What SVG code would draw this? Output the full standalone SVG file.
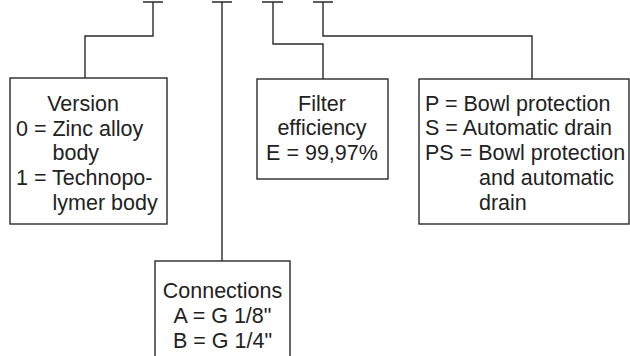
<svg xmlns="http://www.w3.org/2000/svg" width="630" height="356" viewBox="0 0 630 356">
<style>
.box{fill:#fff;stroke:#2a2a2a;stroke-width:1.4}
.ln{fill:none;stroke:#2a2a2a;stroke-width:1.4}
.t{font-family:"Liberation Sans",Arial,sans-serif;font-size:21.5px;fill:#222}
.c{text-anchor:middle}
</style>
<rect width="630" height="356" fill="#fff"/>
<g id="connectors">
<path class="ln" d="M143,2 H163 M153,2 V36 H85 V78"/>
<path class="ln" d="M212,2 H232 M222,2 V261"/>
<path class="ln" d="M262,2 H283 M273,2 V44 H323 V79"/>
<path class="ln" d="M313,2 H333 M323,2 V36 H532 V79"/>
</g>
<g id="version">
<rect class="box" x="10" y="78" width="157" height="146"/>
<text class="t c" x="83" y="111">Version</text>
<text class="t" x="16" y="136">0 = Zinc alloy</text>
<text class="t" x="52.5" y="160">body</text>
<text class="t" x="16" y="185">1 = Technopo-</text>
<text class="t" x="52.5" y="210">lymer body</text>
</g>
<g id="filter">
<rect class="box" x="257" y="79" width="131" height="100"/>
<text class="t c" x="322" y="111">Filter</text>
<text class="t c" x="322" y="135">efficiency</text>
<text class="t c" x="322" y="160">E = 99,97%</text>
</g>
<g id="options">
<rect class="box" x="419" y="79" width="210" height="145"/>
<text class="t" x="425" y="111">P = Bowl protection</text>
<text class="t" x="425" y="135">S = Automatic drain</text>
<text class="t" x="425" y="160">PS = Bowl protection</text>
<text class="t" x="479" y="185">and automatic</text>
<text class="t" x="479" y="209.5">drain</text>
</g>
<g id="connections">
<rect class="box" x="155" y="261" width="135" height="110"/>
<text class="t c" x="222.5" y="298">Connections</text>
<text class="t c" x="222.5" y="323">A = G 1/8"</text>
<text class="t c" x="222.5" y="348">B = G 1/4"</text>
</g>
</svg>
